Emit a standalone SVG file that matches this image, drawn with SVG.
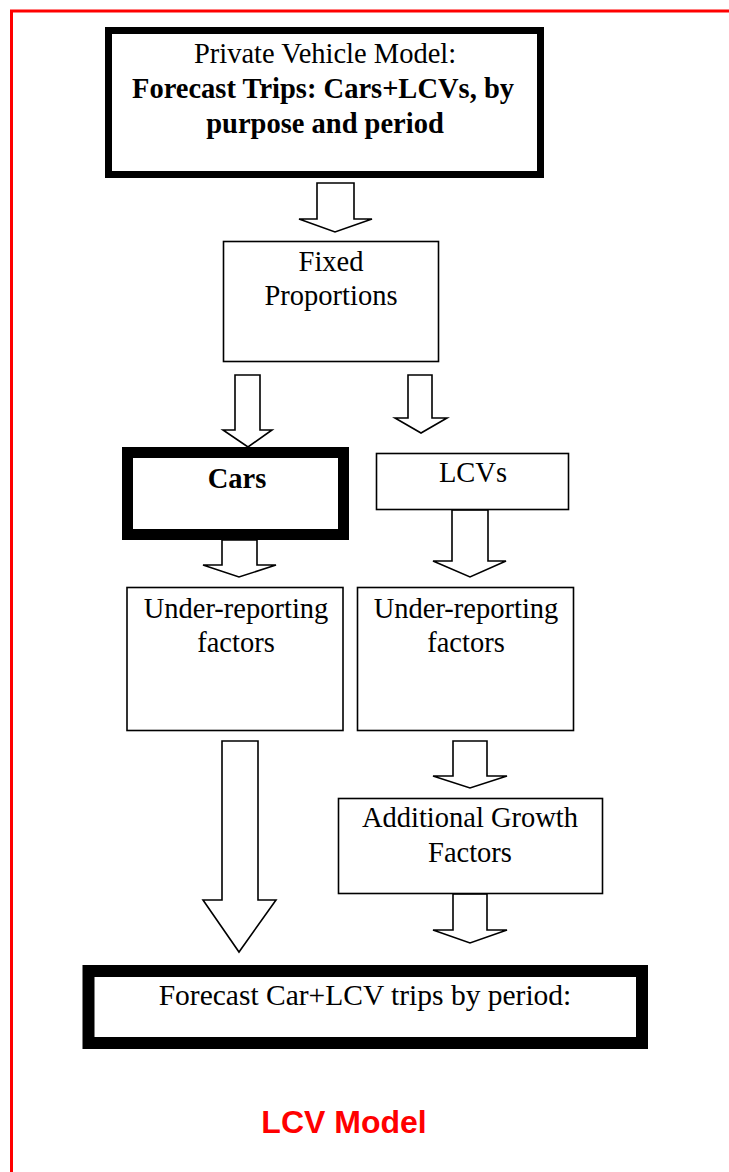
<svg xmlns="http://www.w3.org/2000/svg" width="729" height="1172" viewBox="0 0 729 1172">
<style>
.box{fill:#fff;stroke:#000;stroke-width:1.6}
.arr{fill:#fff;stroke:#000;stroke-width:1.6;stroke-linejoin:miter}
.t{font-family:"Liberation Serif","Times New Roman",serif;font-size:28.5px;fill:#000;text-anchor:middle}
.b{font-weight:bold}
</style>
<rect width="729" height="1172" fill="#fff"/>
<rect x="11.5" y="11" width="740" height="1200" fill="none" stroke="#ff0000" stroke-width="3"/>
<g id="connectors">
<polygon class="arr" points="317,183 354,183 354,219 372,219 335,232 299,219 317,219"/>
<polygon class="arr" points="235,375 260,375 260,430 272,430 248,447 223,430 235,430"/>
<polygon class="arr" points="408,375 432,375 432,418 447,418 421,433 395,418 408,418"/>
<polygon class="arr" points="222,540 257,540 257,565 276,565 239,577 203,565 222,565"/>
<polygon class="arr" points="452,510 488,510 488,561 506,561 470,577 433,561 452,561"/>
<polygon class="arr" points="222,741 258,741 258,900 276,900 239,952 203,900 222,900"/>
<polygon class="arr" points="453,741 487,741 487,776 507,776 470,788 433,776 453,776"/>
<polygon class="arr" points="453,894 487,894 487,930 507,930 470,943 433,930 453,930"/>
</g>
<g id="node-private">
<rect x="108.5" y="30.5" width="432" height="144" fill="#fff" stroke="#000" stroke-width="7"/>
<text class="t" x="325" y="63">Private Vehicle Model:</text>
<text class="t b" x="323" y="98">Forecast Trips: Cars+LCVs, by</text>
<text class="t b" x="325" y="133">purpose and period</text>
</g>
<g id="node-fixed">
<rect class="box" x="223.5" y="241.5" width="215" height="120"/>
<text class="t" x="331" y="271">Fixed</text>
<text class="t" x="331" y="305">Proportions</text>
</g>
<g id="node-cars">
<rect x="127.5" y="452.5" width="216" height="82" fill="#fff" stroke="#000" stroke-width="11"/>
<text class="t b" x="237" y="488">Cars</text>
</g>
<g id="node-lcvs">
<rect class="box" x="376.5" y="453.5" width="192" height="56"/>
<text class="t" x="473" y="482">LCVs</text>
</g>
<g id="node-under-cars">
<rect class="box" x="127" y="587.5" width="216" height="143"/>
<text class="t" x="236" y="618">Under-reporting</text>
<text class="t" x="236" y="652">factors</text>
</g>
<g id="node-under-lcvs">
<rect class="box" x="357.5" y="587.5" width="216" height="143"/>
<text class="t" x="466" y="618">Under-reporting</text>
<text class="t" x="466" y="652">factors</text>
</g>
<g id="node-growth">
<rect class="box" x="338.5" y="798.5" width="264" height="95"/>
<text class="t" x="470" y="827">Additional Growth</text>
<text class="t" x="470" y="862">Factors</text>
</g>
<g id="node-forecast">
<rect x="88.5" y="971" width="553.5" height="72" fill="#fff" stroke="#000" stroke-width="12"/>
<text class="t" x="365" y="1005" style="font-size:29.5px">Forecast Car+LCV trips by period:</text>
</g>
<text x="344" y="1133" font-family="'Liberation Sans',Arial,sans-serif" font-size="32" font-weight="bold" fill="#ff0000" text-anchor="middle">LCV Model</text>
</svg>
